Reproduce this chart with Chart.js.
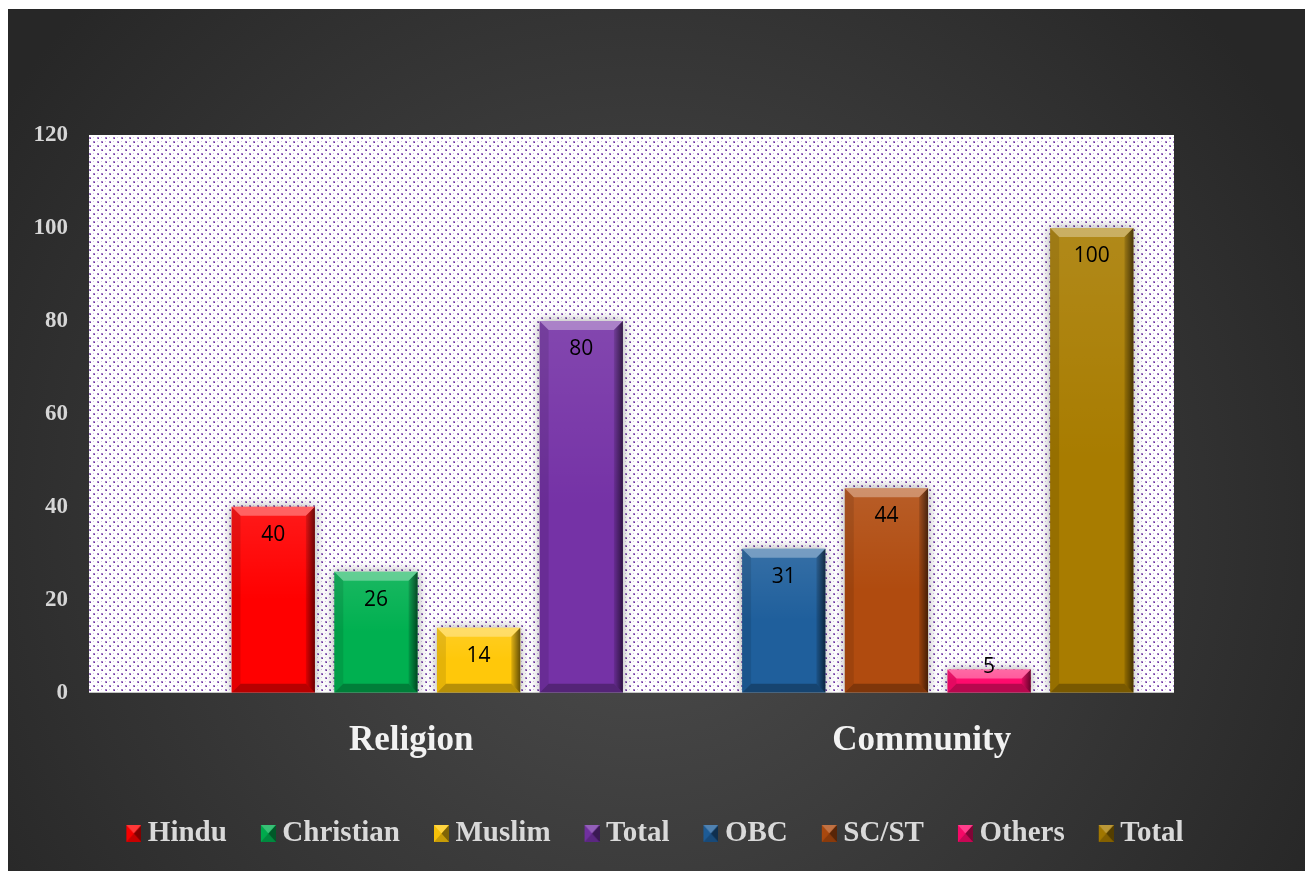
<!DOCTYPE html>
<html>
<head>
<meta charset="utf-8">
<title>Religion and Community</title>
<script src="https://cdn.jsdelivr.net/npm/chart.js@4.4.1/dist/chart.umd.min.js"></script>
<style>
  html, body { margin: 0; padding: 0; background: #fff; }
  canvas { display: block; }
</style>
</head>
<body>
<canvas id="community-chart" width="1305" height="871"></canvas>
<script>
// Respondents by religion and by community

const categories = ['Religion', 'Community'];

const religionGroups = ['Hindu', 'Christian', 'Muslim', 'Total'];
const religionCounts = [40, 26, 14, 80];
const religionColors = ['#ff0000', '#00b050', '#ffc80a', '#7532a6'];

const communityGroups = ['OBC', 'SC/ST', 'Others', 'Total'];
const communityCounts = [31, 44, 5, 100];
const communityColors = ['#1f5f9c', '#b04b0f', '#ff0a6c', '#a87c00'];

const yMax = 120;
const yStep = 20;

// layout
const serif = '"Liberation Serif", "Times New Roman", serif';
const legendGap = 33;
const plotBox = { left: 89, right: 1174 };

// one dataset per group, valued only in its own category
function groupDatasets(names, counts, colors, slot) {
  return names.map((name, i) => ({
    label: name,
    data: categories.map((_, c) => (c === slot ? counts[i] : null)),
    backgroundColor: colors[i],
    yAxisID: 'y'
  }));
}

const datasets = [
  ...groupDatasets(religionGroups, religionCounts, religionColors, 0),
  ...groupDatasets(communityGroups, communityCounts, communityColors, 1)
];

function fillPoly(ctx, pts, style) {
  ctx.beginPath();
  ctx.moveTo(pts[0][0], pts[0][1]);
  for (let i = 1; i < pts.length; i++) ctx.lineTo(pts[i][0], pts[i][1]);
  ctx.closePath();
  ctx.fillStyle = style;
  ctx.fill();
}

// small bevelled square for the legend, drawn on the right of its canvas
function makeSwatch(color) {
  const c = document.createElement('canvas');
  c.width = 24;
  c.height = 17;
  const g = c.getContext('2d');
  const l = 9, r = 24, t = 0, b = 17;
  const cx = (l + r) / 2, cy = (t + b) / 2;
  g.fillStyle = color;
  g.fillRect(l, t, r - l, b - t);
  fillPoly(g, [[l, t], [r, t], [cx, cy]], 'rgba(255,255,255,0.22)');
  fillPoly(g, [[r, t], [r, b], [cx, cy]], 'rgba(0,0,0,0.5)');
  fillPoly(g, [[l, b], [r, b], [cx, cy]], 'rgba(0,0,0,0.22)');
  fillPoly(g, [[l, t], [l, b], [cx, cy]], 'rgba(0,0,0,0.04)');
  return c;
}

const swatches = datasets.map(ds => makeSwatch(ds.backgroundColor));

// white speckled with purple for the plot backdrop
function makeDotPattern(ctx) {
  const tile = document.createElement('canvas');
  tile.width = 8;
  tile.height = 8;
  const t = tile.getContext('2d');
  t.fillStyle = '#ffffff';
  t.fillRect(0, 0, 8, 8);
  t.fillStyle = '#a17fc6';
  t.fillRect(1, 1, 2, 2);
  t.fillRect(5, 5, 2, 2);
  t.fillStyle = '#7030a0';
  t.fillRect(2, 2, 1, 1);
  t.fillRect(6, 6, 1, 1);
  t.fillStyle = '#d7c8e8';
  t.fillRect(5, 1, 1, 1);
  t.fillRect(1, 5, 1, 1);
  return ctx.createPattern(tile, 'repeat');
}

const chartBackdrop = {
  id: 'chartBackdrop',
  beforeDraw(chart) {
    const { ctx, width, height } = chart;
    ctx.save();
    ctx.fillStyle = '#ffffff';
    ctx.fillRect(0, 0, width, height);
    const g = ctx.createRadialGradient(640, 520, 0, 640, 520, 760);
    g.addColorStop(0, '#4e4e4e');
    g.addColorStop(1, '#272727');
    ctx.fillStyle = g;
    ctx.fillRect(8, 9, width - 8, height - 9);

    const y = chart.scales.y;
    ctx.fillStyle = makeDotPattern(ctx);
    ctx.fillRect(plotBox.left, y.top, plotBox.right - plotBox.left, y.bottom - y.top);
    ctx.restore();
  }
};

function drawBevel(ctx, bar) {
  const left = bar.x - bar.width / 2;
  const right = bar.x + bar.width / 2;
  const top = Math.min(bar.y, bar.base);
  const bottom = Math.max(bar.y, bar.base);
  const b = Math.min(9, (bottom - top) / 2);

  const face = ctx.createLinearGradient(0, top, 0, bottom);
  face.addColorStop(0, 'rgba(255,255,255,0.10)');
  face.addColorStop(0.5, 'rgba(255,255,255,0)');
  ctx.fillStyle = face;
  ctx.fillRect(left, top, right - left, bottom - top);

  fillPoly(ctx, [[left, top], [right, top], [right - b, top + b], [left + b, top + b]], 'rgba(255,255,255,0.32)');
  fillPoly(ctx, [[left, bottom], [right, bottom], [right - b, bottom - b], [left + b, bottom - b]], 'rgba(0,0,0,0.28)');

  const side = ctx.createLinearGradient(right - b, 0, right, 0);
  side.addColorStop(0, 'rgba(0,0,0,0.12)');
  side.addColorStop(1, 'rgba(0,0,0,0.6)');
  fillPoly(ctx, [[right, top], [right, bottom], [right - b, bottom - b], [right - b, top + b]], side);
  fillPoly(ctx, [[left, top], [left, bottom], [left + b, bottom - b], [left + b, top + b]], 'rgba(0,0,0,0.10)');
}

// soft shadow under the bars, then bevel and value on each one
const barFinish = {
  id: 'barFinish',
  beforeDatasetsDraw(chart) {
    const ctx = chart.ctx;
    ctx.save();
    ctx.shadowColor = 'rgba(0,0,0,0.35)';
    ctx.shadowBlur = 10;
  },
  afterDatasetsDraw(chart) {
    const ctx = chart.ctx;
    ctx.restore();
    ctx.save();
    chart.data.datasets.forEach((ds, i) => {
      const meta = chart.getDatasetMeta(i);
      meta.data.forEach((bar, j) => {
        const value = ds.data[j];
        if (value === null || value === undefined) return;
        drawBevel(ctx, bar);
        ctx.font = '21px "Open Sans", sans-serif';
        ctx.fillStyle = '#000000';
        ctx.textAlign = 'center';
        ctx.textBaseline = 'middle';
        const labelY = Math.min(bar.y + 28, bar.base - 26);
        ctx.fillText(String(value), bar.x, labelY);
      });
    });
    ctx.restore();
  }
};

new Chart(document.getElementById('community-chart'), {
  type: 'bar',
  data: {
    labels: categories,
    datasets: datasets
  },
  options: {
    responsive: false,
    animation: false,
    events: [],
    layout: {
      padding: { left: 8, right: 4, top: 135, bottom: 13 }
    },
    datasets: {
      bar: {
        skipNull: true,
        categoryPercentage: 0.8045,
        barPercentage: 0.811,
        borderWidth: 0
      }
    },
    scales: {
      x: {
        grid: { display: false, drawTicks: false },
        border: { display: false },
        ticks: {
          color: '#f2f2f2',
          font: { family: serif, size: 35, weight: 'bold' },
          padding: 27,
          labelOffset: -16,
          maxRotation: 0
        },
        afterFit(scale) {
          // room between the bars and the legend
          scale.height = 126.3 - legendGap;
        }
      },
      y: {
        min: 0,
        max: yMax,
        grid: { display: false, drawTicks: false },
        border: { display: false },
        ticks: {
          stepSize: yStep,
          color: '#d6d6d6',
          font: { family: serif, size: 23, weight: 'bold' },
          padding: 104
        },
        afterFit(scale) {
          scale.width = 164;
        }
      },
      gutter: {
        type: 'linear',
        axis: 'y',
        position: 'right',
        grid: { display: false, drawTicks: false },
        border: { display: false },
        ticks: { display: false },
        afterFit(scale) {
          scale.width = 108;
        }
      }
    },
    plugins: {
      legend: {
        position: 'bottom',
        labels: {
          usePointStyle: true,
          pointStyleWidth: 8,
          boxHeight: 17,
          padding: legendGap,
          color: '#d9d9d9',
          font: { family: serif, size: 29, weight: 'bold' },
          generateLabels(chart) {
            const items = Chart.defaults.plugins.legend.labels.generateLabels(chart);
            items.forEach(item => { item.pointStyle = swatches[item.datasetIndex]; });
            return items;
          }
        }
      },
      tooltip: { enabled: false }
    }
  },
  plugins: [chartBackdrop, barFinish]
});
</script>
</body>
</html>
